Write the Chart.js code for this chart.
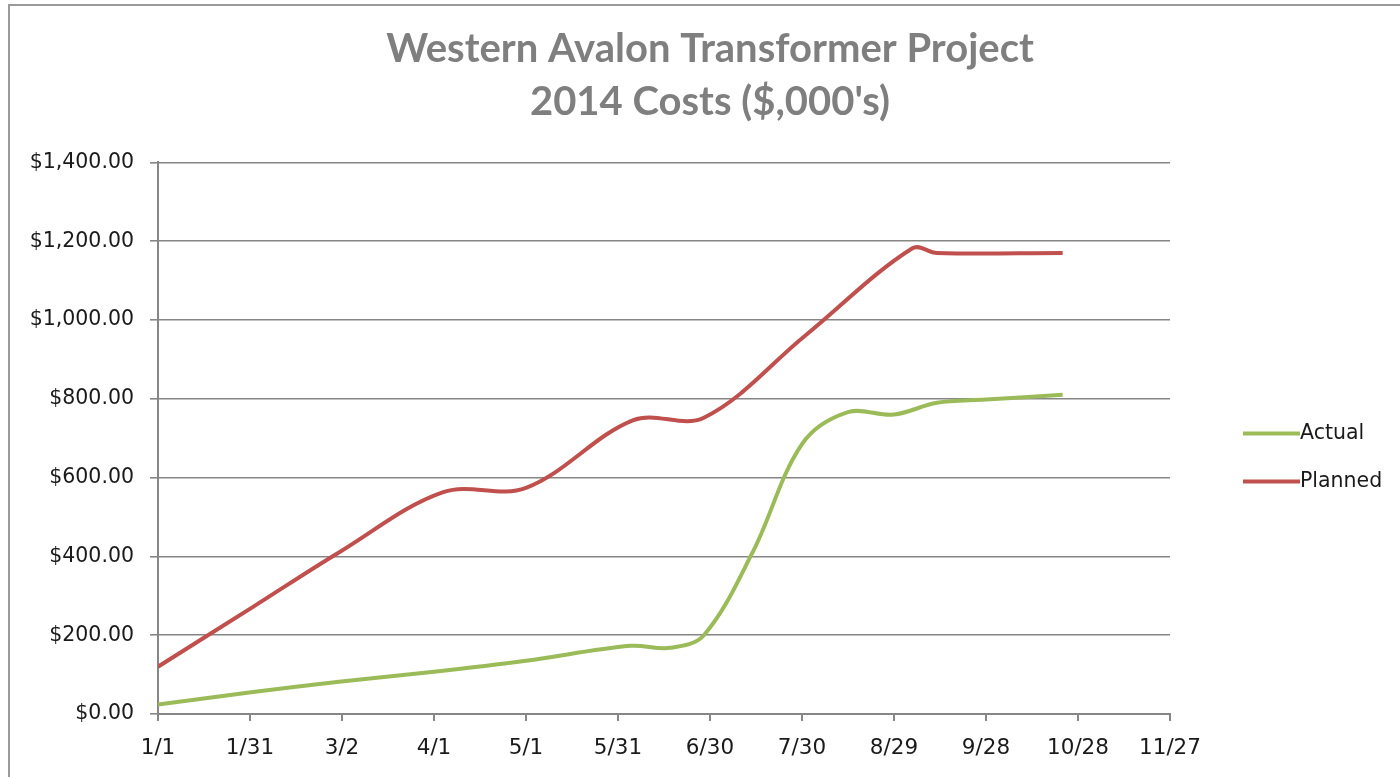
<!DOCTYPE html>
<html>
<head>
<meta charset="utf-8">
<title>Western Avalon Transformer Project</title>
<script src="https://cdn.jsdelivr.net/npm/chart.js@4/dist/chart.umd.min.js"></script>
<style>
    html, body { margin: 0; padding: 0; background: #fff; overflow: hidden; }
    #frame {
        position: absolute; left: 8px; top: 4px; width: 2000px; height: 2000px;
        border-left: 2px solid #9a9a9a; border-top: 2px solid #9a9a9a;
    }
    #costChart { position: absolute; left: 0; top: 0; }
</style>
</head>
<body>
<div id="frame"></div>
<canvas id="costChart" width="1400" height="777"></canvas>
<script>
'use strict';

// dates are 2014 (month/day)
const actualDates = ['1/1', '2/1', '3/1', '4/1', '5/1', '6/4', '6/17', '6/28', '7/14', '7/30', '8/14', '8/29', '9/12', '9/28', '10/23'];
const actualCosts = [24, 56, 82, 107, 135, 173, 168, 200, 412, 685, 766, 760, 790, 798, 810];

const plannedDates = ['1/1', '2/1', '3/1', '4/4', '5/1', '6/5', '6/28', '7/31', '9/4', '9/12', '10/23'];
const plannedCosts = [120, 272, 410, 563, 574, 746, 752, 960, 1182, 1170, 1170];

const xTicks = ['1/1', '1/31', '3/2', '4/1', '5/1', '5/31', '6/30', '7/30', '8/29', '9/28', '10/28', '11/27'];
const yTicks = [0, 200, 400, 600, 800, 1000, 1200, 1400];

const GREEN = '#9bbb59';
const RED = '#c0504d';
const GRID = '#868686';

function dayOfYear(md) {
    const [m, d] = md.split('/').map(Number);
    return (Date.UTC(2014, m - 1, d) - Date.UTC(2014, 0, 1)) / 86400000;
}

function toPoints(dates, values) {
    return dates.map((d, i) => ({ x: dayOfYear(d), y: values[i] }));
}

function dayLabel(v) {
    const d = new Date(Date.UTC(2014, 0, 1 + v));
    return (d.getUTCMonth() + 1) + '/' + d.getUTCDate();
}

const xTickDays = xTicks.map(dayOfYear);

// title is centred on the whole picture, not only on the plot
const widenTitle = {
    id: 'widenTitle',
    afterLayout(chart) {
        const t = chart.titleBlock;
        if (!t) return;
        t.left = 20;
        t.right = chart.width;
        t.width = t.right - t.left;
    }
};

// legend drawn to the right of the plot, like the original
const sideLegend = {
    id: 'sideLegend',
    afterDraw(chart) {
        const c = chart.ctx;
        const area = chart.chartArea;
        const x0 = area.right + 73;
        let y = area.top + 271;
        chart.data.datasets.forEach(ds => {
            c.save();
            c.strokeStyle = ds.borderColor;
            c.lineWidth = 4;
            c.beginPath();
            c.moveTo(x0, y);
            c.lineTo(x0 + 57, y);
            c.stroke();
            c.fillStyle = '#1a1a1a';
            c.font = '20.5px "DejaVu Sans"';
            c.textBaseline = 'middle';
            c.fillText(ds.label, x0 + 57, y);
            c.restore();
            y += 48;
        });
    }
};

const ctx = document.getElementById('costChart').getContext('2d');

new Chart(ctx, {
    type: 'line',
    data: {
        datasets: [
            {
                label: 'Actual',
                data: toPoints(actualDates, actualCosts),
                borderColor: GREEN,
                borderWidth: 4,
                pointRadius: 0,
                tension: 0.35,
                fill: false
            },
            {
                label: 'Planned',
                data: toPoints(plannedDates, plannedCosts),
                borderColor: RED,
                borderWidth: 4,
                pointRadius: 0,
                tension: 0.35,
                fill: false
            }
        ]
    },
    options: {
        responsive: false,
        animation: false,
        devicePixelRatio: 1,
        layout: {
            padding: { top: 0, right: 230, bottom: 0, left: 0 }
        },
        plugins: {
            legend: { display: false },
            tooltip: { enabled: false },
            title: {
                display: true,
                text: ['Western Avalon Transformer Project', "2014 Costs ($,000's)"],
                color: '#7f7f7f',
                font: { family: 'Lato', size: 40, weight: 'bold', lineHeight: 1.33 },
                padding: { top: 22, bottom: 34 }
            }
        },
        scales: {
            x: {
                type: 'linear',
                min: xTickDays[0],
                max: xTickDays[xTickDays.length - 1],
                afterBuildTicks: scale => {
                    scale.ticks = xTickDays.map(v => ({ value: v }));
                },
                afterFit: scale => { scale.height = 63; },
                grid: {
                    drawOnChartArea: false,
                    drawTicks: true,
                    tickLength: 7,
                    color: GRID,
                    lineWidth: 2
                },
                border: { display: true, color: GRID, width: 2 },
                ticks: {
                    callback: v => dayLabel(v),
                    color: '#1a1a1a',
                    font: { family: 'DejaVu Sans', size: 21.5 },
                    padding: 15,
                    maxRotation: 0,
                    autoSkip: false
                }
            },
            y: {
                min: yTicks[0],
                max: yTicks[yTicks.length - 1],
                afterBuildTicks: scale => {
                    scale.ticks = yTicks.map(v => ({ value: v }));
                },
                afterFit: scale => { scale.width = 158; },
                grid: {
                    color: GRID,
                    lineWidth: 1.6,
                    tickLength: 8
                },
                border: { display: true, color: GRID, width: 2 },
                ticks: {
                    callback: v => '$' + v.toLocaleString('en-US', { minimumFractionDigits: 2, maximumFractionDigits: 2 }),
                    color: '#1a1a1a',
                    font: { family: 'DejaVu Sans', size: 20.5 },
                    padding: 16
                }
            }
        }
    },
    plugins: [widenTitle, sideLegend]
});
</script>
</body>
</html>
